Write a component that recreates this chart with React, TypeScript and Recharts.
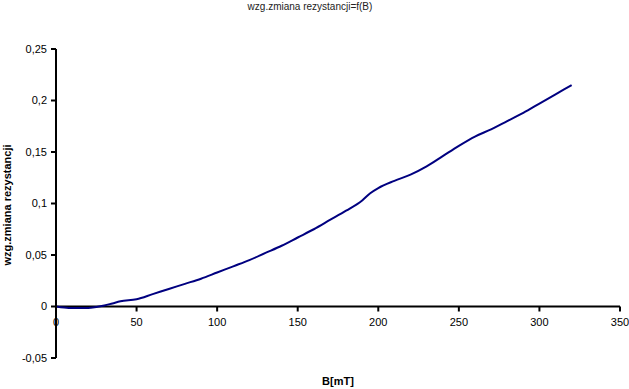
import { Line, LineChart, ReferenceLine, XAxis, YAxis } from "recharts";

// B [mT]
const fieldB = [
  0, 5, 10, 15, 20, 25, 30, 35, 40, 50, 60, 70, 80, 90, 100, 110, 120, 130, 140,
  150, 160, 170, 180, 190, 195, 200, 210, 220, 230, 240, 250, 260, 270, 280, 290,
  300, 310, 320,
];
// relative resistance change
const deltaR = [
  0, -0.001, -0.0015, -0.0015, -0.0015, -0.0005, 0.001, 0.003, 0.005, 0.007,
  0.012, 0.017, 0.022, 0.027, 0.033, 0.039, 0.045, 0.052, 0.059, 0.067, 0.075,
  0.084, 0.093, 0.103, 0.11, 0.115, 0.122, 0.128, 0.136, 0.146, 0.156, 0.165,
  0.172, 0.18, 0.188, 0.197, 0.206, 0.215,
];
const xTicks = [0, 50, 100, 150, 200, 250, 300, 350];
const yTicks = [-0.05, 0, 0.05, 0.1, 0.15, 0.2, 0.25];

const data = fieldB.map((b, i) => ({ b, r: deltaR[i] }));

const W = 629;
const H = 389;
const PLOT_TOP = 49;
const PLOT_BOTTOM = 358;
const FONT = "'Liberation Sans', Arial, sans-serif";

// pixel row of y = 0, where the x axis crosses
const zeroY =
  PLOT_BOTTOM - ((0 - yTicks[0]) / (yTicks[yTicks.length - 1] - yTicks[0])) * (PLOT_BOTTOM - PLOT_TOP);

const fmt = (v: number) => String(v).replace(".", ",");

function XTick({ x, payload }: any) {
  return (
    <g>
      <line x1={x} x2={x} y1={zeroY} y2={zeroY + 5} stroke="#000" strokeWidth={2} />
      <text x={x} y={zeroY + 19} textAnchor="middle" fontSize={11} fontFamily={FONT} fill="#000">
        {payload.value}
      </text>
    </g>
  );
}

export default function App() {
  return (
    <div style={{ position: "absolute", left: 0, top: 0, width: W, height: H, background: "#fff" }}>
      <LineChart
        width={W}
        height={H}
        data={data}
        margin={{ top: PLOT_TOP, right: 9, bottom: H - PLOT_BOTTOM - 20, left: 0 }}
      >
        <text x={310} y={10} textAnchor="middle" fontSize={10} fontFamily={FONT} fill="#222">
          wzg.zmiana rezystancji=f(B)
        </text>
        <text
          x={11}
          y={205}
          transform="rotate(-90 11 205)"
          textAnchor="middle"
          fontSize={11}
          fontWeight="bold"
          fontFamily={FONT}
          fill="#000"
        >
          wzg.zmiana rezystancji
        </text>
        <text x={338} y={385} textAnchor="middle" fontSize={11} fontWeight="bold" fontFamily={FONT} fill="#000">
          B[mT]
        </text>
        <XAxis
          type="number"
          dataKey="b"
          domain={[0, 350]}
          ticks={xTicks}
          height={20}
          axisLine={false}
          tickLine={false}
          tick={<XTick />}
          interval={0}
        />
        <YAxis
          type="number"
          domain={[-0.05, 0.25]}
          ticks={yTicks}
          width={56}
          interval={0}
          tickFormatter={fmt}
          axisLine={{ stroke: "#000", strokeWidth: 2 }}
          tickLine={{ stroke: "#000", strokeWidth: 2 }}
          tickSize={5}
          tickMargin={4}
          tick={{ fill: "#000", fontSize: 11, fontFamily: FONT }}
        />
        <ReferenceLine y={0} stroke="#000" strokeWidth={2} />
        <Line
          type="monotone"
          dataKey="r"
          stroke="#000080"
          strokeWidth={2}
          dot={false}
          isAnimationActive={false}
        />
      </LineChart>
    </div>
  );
}
